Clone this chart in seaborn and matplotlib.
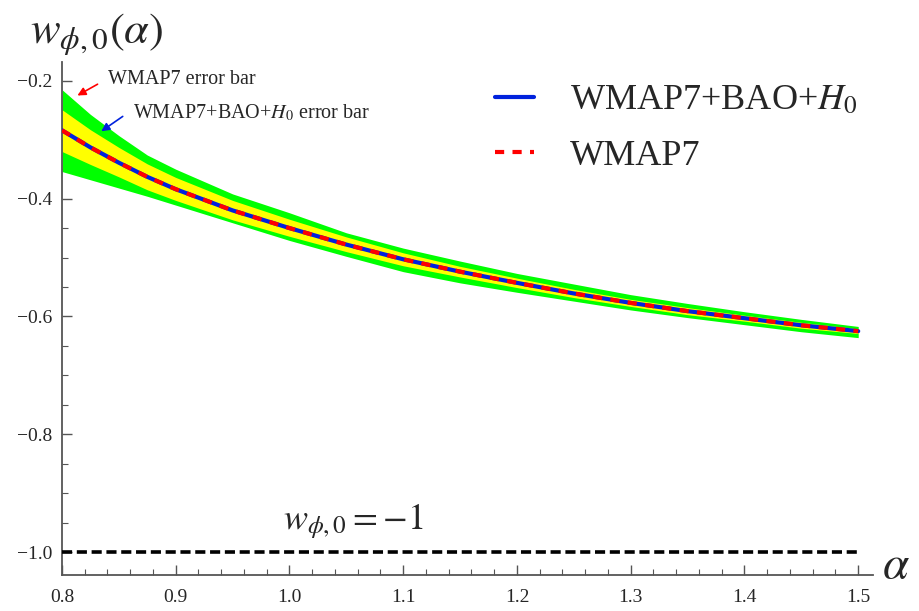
import numpy as np
import pandas as pd
import seaborn as sns
import matplotlib
matplotlib.use("Agg")
import matplotlib.pyplot as plt
from matplotlib.lines import Line2D
from matplotlib.ticker import MultipleLocator, FuncFormatter

# ---- data ----
alpha = [0.80, 0.825, 0.85, 0.875, 0.90, 0.95, 1.00, 1.05, 1.10, 1.15, 1.20, 1.25, 1.30, 1.35, 1.40, 1.45, 1.50]
w_combined = [-0.284, -0.313, -0.339, -0.363, -0.384, -0.420, -0.450, -0.478, -0.503, -0.524, -0.543, -0.561, -0.577, -0.591, -0.603, -0.615, -0.625]
w_wmap7 = [-0.284, -0.313, -0.339, -0.363, -0.384, -0.420, -0.450, -0.478, -0.503, -0.524, -0.543, -0.561, -0.577, -0.591, -0.603, -0.615, -0.625]
wmap7_upper = [-0.215, -0.257, -0.293, -0.326, -0.350, -0.392, -0.424, -0.458, -0.484, -0.506, -0.527, -0.545, -0.563, -0.578, -0.592, -0.605, -0.617]
wmap7_lower = [-0.354, -0.368, -0.382, -0.396, -0.411, -0.441, -0.471, -0.498, -0.524, -0.543, -0.559, -0.574, -0.589, -0.602, -0.614, -0.626, -0.636]
comb_upper = [-0.249, -0.283, -0.313, -0.341, -0.364, -0.403, -0.435, -0.465, -0.492, -0.515, -0.535, -0.554, -0.571, -0.585, -0.598, -0.610, -0.621]
comb_lower = [-0.320, -0.342, -0.363, -0.385, -0.403, -0.436, -0.464, -0.490, -0.514, -0.533, -0.551, -0.568, -0.583, -0.597, -0.608, -0.620, -0.629]
w_lambda = -1.0
x_ticks = [0.8, 0.9, 1.0, 1.1, 1.2, 1.3, 1.4, 1.5]
y_ticks = [-1.0, -0.8, -0.6, -0.4, -0.2]

sns.set_style("white")
plt.rcParams["font.family"] = ["Liberation Serif", "DejaVu Serif"]
plt.rcParams["mathtext.fontset"] = "stix"

W, H = 919, 611
fig = plt.figure(figsize=(W / 100, H / 100), dpi=100)
ax = fig.add_axes([62 / W, 36 / H, 811 / W, 513 / H])

ax.fill_between(alpha, wmap7_lower, wmap7_upper, color="#00ff00", lw=0, zorder=1)
ax.fill_between(alpha, comb_lower, comb_upper, color="#ffff00", lw=0, zorder=2)

df = pd.DataFrame({"alpha": alpha, "comb": w_combined, "wmap7": w_wmap7})
red_dash = (0, (2.2, 2.0))
sns.lineplot(data=df, x="alpha", y="comb", ax=ax, color="#0022dd", lw=3.0, zorder=3, legend=False)
sns.lineplot(data=df, x="alpha", y="wmap7", ax=ax, color="#ff0000", lw=3.0, zorder=4,
             legend=False, linestyle=red_dash)
ax.plot([alpha[0], alpha[-1]], [w_lambda, w_lambda], color="black", lw=2.6,
        linestyle=(0, (2.8, 1.3)), zorder=3)

ax.set_xlim(0.8, 1.513)
ax.set_ylim(-1.039, -0.168)
ax.set_xlabel("")
ax.set_ylabel("")

for s in ["top", "right"]:
    ax.spines[s].set_visible(False)
for s in ["left", "bottom"]:
    ax.spines[s].set_color("#555555")
    ax.spines[s].set_linewidth(1.3)

ax.set_xticks(x_ticks)
ax.set_yticks(y_ticks)
ax.xaxis.set_minor_locator(MultipleLocator(0.02))
ax.yaxis.set_minor_locator(MultipleLocator(0.05))
fmt = FuncFormatter(lambda v, p: ("\u2212" if v < 0 else "") + f"{abs(v):.1f}")
ax.yaxis.set_major_formatter(fmt)
ax.xaxis.set_major_formatter(fmt)
ax.tick_params(axis="both", which="major", direction="in", length=7, width=1, color="#555555",
               labelsize=14, pad=7)
ax.tick_params(axis="x", which="major", pad=10)
ax.tick_params(axis="both", which="minor", direction="in", length=4.5, width=0.8, color="#555555")
ax.tick_params(axis="x", bottom=True, which="both")
ax.tick_params(axis="y", left=True, which="both")

fig.text(30 / W, 1 - 43 / H, r"$w_{\phi,0}(\alpha)$", fontsize=32, va="baseline", ha="left")
fig.text(882 / W, 1 - 578 / H, r"$\alpha$", fontsize=34, va="baseline", ha="left")
ax.text(0.994, -0.962, r"$w_{\phi,0}=-1$", fontsize=26, ha="left", va="baseline")
ax.annotate("", xy=(0.8114, -0.2272), xytext=(0.8334, -0.2034),
            arrowprops=dict(arrowstyle="-|>", color="red", lw=1.2, mutation_scale=12))
ax.text(0.8405, -0.198, "WMAP7 error bar", fontsize=14.5, ha="left", va="center")
ax.annotate("", xy=(0.8325, -0.2883), xytext=(0.8554, -0.2577),
            arrowprops=dict(arrowstyle="-|>", color="#0022dd", lw=1.2, mutation_scale=12))
ax.text(0.8624, -0.254, r"WMAP7+BAO+$H_0$ error bar", fontsize=14.5, ha="left", va="center")

handles = [Line2D([], [], color="#0022dd", lw=3.0),
           Line2D([], [], color="#ff0000", lw=3.0, linestyle=red_dash)]
leg = fig.legend(handles, [r"WMAP7+BAO+$H_0$", "WMAP7"], loc="upper left",
                 bbox_to_anchor=(495 / W, 1 - 84 / H), frameon=False, borderpad=0,
                 borderaxespad=0, fontsize=26, handlelength=1.08, handletextpad=1.0,
                 labelspacing=0.62)

fig.savefig("out.png", dpi=100)
